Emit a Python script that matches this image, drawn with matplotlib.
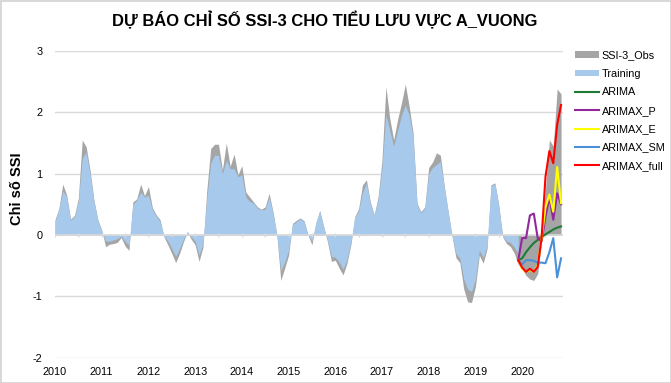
import numpy as np
import matplotlib
matplotlib.use("Agg")
import matplotlib.pyplot as plt
from matplotlib.patches import Patch
from matplotlib.lines import Line2D

plt.rcParams['font.family'] = ['Liberation Sans', 'DejaVu Sans']

# ---------------- data ----------------
years = [2010, 2011, 2012, 2013, 2014, 2015, 2016, 2017, 2018, 2019, 2020]

obs = [0.25, 0.43, 0.83, 0.65, 0.26, 0.32, 0.60, 1.55, 1.44, 1.06, 0.57, 0.25,
       0.08, -0.19, -0.15, -0.14, -0.12, -0.04, -0.18, -0.25, 0.54, 0.59, 0.83, 0.64,
       0.79, 0.45, 0.33, 0.25, -0.03, -0.16, -0.30, -0.45, -0.30, -0.11, 0.05, -0.07,
       -0.16, -0.43, -0.20, 0.73, 1.41, 1.48, 1.48, 1.06, 1.50, 1.12, 1.32, 0.98,
       1.13, 0.70, 0.62, 0.54, 0.46, 0.42, 0.46, 0.68, 0.38, 0.00, -0.74, -0.54,
       -0.33, 0.19, 0.24, 0.28, 0.23, 0.00, -0.16, 0.19, 0.40, 0.14, -0.11, -0.43,
       -0.41, -0.54, -0.65, -0.46, -0.16, 0.30, 0.43, 0.82, 0.90, 0.54, 0.33, 0.62,
       1.22, 2.42, 1.90, 1.55, 1.88, 2.15, 2.46, 2.09, 1.66, 0.52, 0.38, 0.46,
       1.10, 1.19, 1.34, 1.30, 0.80, 0.38, -0.02, -0.37, -0.45, -0.88, -1.09, -1.10,
       -0.84, -0.33, -0.46, -0.22, 0.82, 0.85, 0.49, -0.03, -0.14, -0.19, -0.30, -0.48,
       -0.55, -0.66, -0.72, -0.74, -0.63, -0.10, 0.75, 1.55, 1.45, 2.38, 2.30]

training = [0.22, 0.42, 0.72, 0.62, 0.24, 0.30, 0.55, 1.25, 1.35, 1.00, 0.55, 0.24,
            0.07, -0.10, -0.10, -0.08, -0.06, -0.02, -0.10, -0.17, 0.50, 0.57, 0.70, 0.62,
            0.65, 0.42, 0.31, 0.22, -0.02, -0.10, -0.22, -0.35, -0.22, -0.07, 0.06, -0.03,
            -0.10, -0.33, -0.14, 0.60, 1.18, 1.30, 1.30, 1.00, 1.22, 1.08, 1.08, 0.95,
            0.98, 0.62, 0.55, 0.52, 0.44, 0.41, 0.42, 0.62, 0.36, 0.00, -0.58, -0.44,
            -0.25, 0.17, 0.22, 0.27, 0.21, 0.00, -0.10, 0.20, 0.39, 0.14, -0.08, -0.35,
            -0.36, -0.44, -0.56, -0.40, -0.12, 0.28, 0.40, 0.70, 0.85, 0.52, 0.32, 0.58,
            1.10, 1.96, 1.70, 1.45, 1.70, 1.95, 2.12, 1.95, 1.60, 0.50, 0.36, 0.44,
            1.00, 1.10, 1.15, 1.20, 0.78, 0.38, -0.02, -0.30, -0.38, -0.72, -0.88, -0.92,
            -0.72, -0.25, -0.37, -0.18, 0.80, 0.84, 0.47, -0.02, -0.10, -0.12, -0.20, -0.30]

forecast_start = 119  # month index (Dec 2019)
arima      = [-0.41, -0.38, -0.28, -0.20, -0.13, -0.08, -0.03, 0.01, 0.05, 0.09, 0.12, 0.14]
arimax_p   = [-0.41, -0.05, -0.05, 0.32, 0.35, -0.05, -0.10, 0.30, 0.62, 0.25, 0.68, 0.50]
arimax_e   = [-0.41, -0.55, -0.60, -0.57, -0.60, -0.50, -0.05, 0.45, 0.66, 0.38, 1.11, 0.52]
arimax_sm  = [-0.41, -0.48, -0.41, -0.41, -0.42, -0.45, -0.45, -0.46, -0.28, -0.05, -0.69, -0.38]
arimax_full = [-0.41, -0.53, -0.60, -0.55, -0.60, -0.52, -0.05, 0.95, 1.37, 1.17, 1.80, 2.12]

# ---------------- figure ----------------
W, H, DPI = 671, 383, 100
fig = plt.figure(figsize=(W / DPI, H / DPI), dpi=DPI)
fig.patch.set_facecolor('white')
fig.patch.set_edgecolor('#D9D9D9')
fig.patch.set_linewidth(1.0)

ax = fig.add_axes([55 / W, 1 - 357.7 / H, (563 - 55) / W, (357.7 - 51) / H])

x_obs = np.arange(len(obs))
x_tr = np.arange(len(training))
x_fc = np.arange(forecast_start, forecast_start + len(arima))

ax.set_ylim(-2, 3)
ax.set_xlim(0, len(obs) - 0.5)

for v in [-2, -1, 1, 2, 3]:
    ax.axhline(v, color='#D9D9D9', lw=1.0, zorder=0)
ax.axhline(0, color='#D9D9D9', lw=1.2, zorder=3)
ax.vlines(np.arange(0, len(obs), 6), -0.035, 0.035, color='#D9D9D9', lw=1.0, zorder=3)

ax.fill_between(x_obs, 0, obs, color='#A5A5A5', lw=0, zorder=1)
ax.fill_between(x_tr, 0, training, color='#A6C9EC', lw=0, zorder=2)

lw = 1.5
ax.plot(x_fc, arima, color='#1E7B34', lw=lw, zorder=4)
ax.plot(x_fc, arimax_p, color='#93289E', lw=lw, zorder=4)
ax.plot(x_fc, arimax_e, color='#FFFF00', lw=lw, zorder=4)
ax.plot(x_fc, arimax_sm, color='#4A90D9', lw=lw, zorder=4)
ax.plot(x_fc, arimax_full, color='#FF0000', lw=lw, zorder=5)

for s in ax.spines.values():
    s.set_visible(False)

ax.set_yticks([-2, -1, 0, 1, 2, 3])
ax.set_yticklabels(['-2', '-1', '0', '1', '2', '3'])
ax.set_xticks(np.arange(len(years)) * 12)
ax.set_xticklabels([str(y) for y in years])
ax.tick_params(axis='both', length=0, labelsize=7.8, colors='#000000')
ax.tick_params(axis='y', pad=9)
ax.tick_params(axis='x', pad=7)

fig.text(17 / W, 1 - 189 / H, 'Chỉ số SSI', rotation=90, ha='center', va='center',
         fontsize=10.5, fontweight='bold')

fig.text(325 / W, 1 - 20 / H, 'DỰ BÁO CHỈ SỐ SSI-3 CHO TIỂU LƯU VỰC A_VUONG',
         ha='center', va='center', fontsize=11.9, fontweight='bold')

handles = [Patch(facecolor='#A5A5A5', edgecolor='none'),
           Patch(facecolor='#A6C9EC', edgecolor='none'),
           Line2D([], [], color='#1E7B34', lw=lw),
           Line2D([], [], color='#93289E', lw=lw),
           Line2D([], [], color='#FFFF00', lw=lw),
           Line2D([], [], color='#4A90D9', lw=lw),
           Line2D([], [], color='#FF0000', lw=lw)]
labels = ['SSI-3_Obs', 'Training', 'ARIMA', 'ARIMAX_P', 'ARIMAX_E', 'ARIMAX_SM', 'ARIMAX_full']
leg = fig.legend(handles, labels, loc='upper left', bbox_to_anchor=(571 / W, 1 - 46 / H),
                 frameon=False, fontsize=7.8, handlelength=2.2, handleheight=0.6,
                 handletextpad=0.25, labelspacing=0.78, borderaxespad=0)

fig.savefig('out.png', dpi=DPI)
